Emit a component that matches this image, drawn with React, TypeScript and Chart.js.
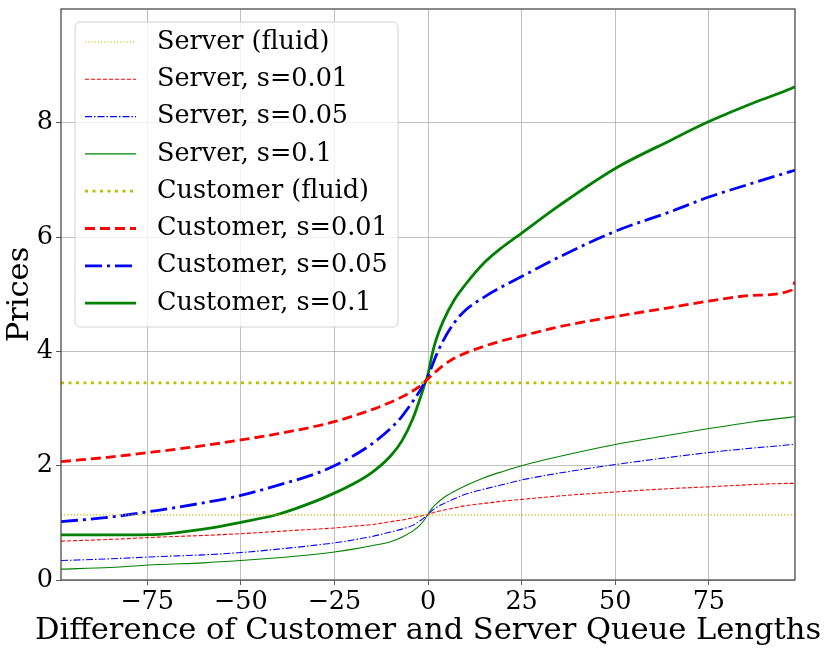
import { useEffect, useRef } from "react";
import { Chart, registerables } from "chart.js";

Chart.register(...registerables);

const xValues = [
  -98, -85, -72, -60, -50, -40, -30, -25, -20, -15, -10, -7, -4, -2, -1, 0, 1,
  2, 4, 7, 10, 15, 20, 25, 35, 50, 65, 75, 87, 97, 98,
];

const serverFluid = 1.14;
const customerFluid = 3.45;

const serverS001 = [
  0.68, 0.71, 0.75, 0.78, 0.81, 0.85, 0.89, 0.91, 0.94, 0.97, 1.02, 1.05, 1.09,
  1.12, 1.13, 1.15, 1.17, 1.19, 1.22, 1.26, 1.3, 1.34, 1.38, 1.41, 1.47, 1.54,
  1.6, 1.63, 1.67, 1.69, 1.69,
];
const serverS005 = [
  0.34, 0.37, 0.41, 0.44, 0.48, 0.54, 0.61, 0.65, 0.7, 0.76, 0.84, 0.89, 0.96,
  1.04, 1.09, 1.15, 1.21, 1.26, 1.33, 1.42, 1.5, 1.59, 1.67, 1.75, 1.87, 2.02,
  2.15, 2.23, 2.31, 2.37, 2.38,
];
const serverS01 = [
  0.19, 0.22, 0.27, 0.3, 0.34, 0.39, 0.45, 0.49, 0.54, 0.6, 0.67, 0.75, 0.86,
  0.97, 1.05, 1.15, 1.25, 1.32, 1.43, 1.55, 1.65, 1.79, 1.9, 2.0, 2.16, 2.37,
  2.54, 2.65, 2.77, 2.85, 2.86,
];
const customerS001 = [
  2.07, 2.15, 2.25, 2.35, 2.45, 2.56, 2.69, 2.77, 2.87, 2.98, 3.11, 3.2, 3.31,
  3.4, 3.46, 3.52, 3.58, 3.64, 3.75, 3.88, 3.97, 4.09, 4.19, 4.27, 4.43, 4.61,
  4.77, 4.88, 4.98, 5.07, 5.22,
];
const customerS005 = [
  1.02, 1.1, 1.22, 1.35, 1.48, 1.66, 1.86, 2.0, 2.17, 2.38, 2.65, 2.86, 3.13,
  3.33, 3.45, 3.57, 3.73, 3.9, 4.18, 4.5, 4.72, 4.95, 5.14, 5.31, 5.65, 6.1,
  6.45, 6.7, 6.95, 7.15, 7.17,
];
const customerS01 = [
  0.79, 0.79, 0.8, 0.89, 1.01, 1.15, 1.38, 1.52, 1.68, 1.88, 2.17, 2.43, 2.83,
  3.2, 3.4, 3.6, 3.92, 4.17, 4.52, 4.9, 5.17, 5.55, 5.83, 6.07, 6.55, 7.2, 7.7,
  8.02, 8.35, 8.6, 8.63,
];

const seriesLabels = [
  "Server (fluid)",
  "Server, s=0.01",
  "Server, s=0.05",
  "Server, s=0.1",
  "Customer (fluid)",
  "Customer, s=0.01",
  "Customer, s=0.05",
  "Customer, s=0.1",
];

const xTitle = "Difference of Customer and Server Queue Lengths";
const yTitle = "Prices";

const FONT = "'DejaVu Serif', serif";

const toPoints = (ys: number[]) => xValues.map((x, i) => ({ x, y: ys[i] }));
const flat = (y: number) => [
  { x: xValues[0], y },
  { x: xValues[xValues.length - 1], y },
];

const minusLabel = (v: number | string) => {
  const n = Number(v);
  return n < 0 ? "\u2212" + Math.abs(n) : String(n);
};

const frameAndLegend = {
  id: "frameAndLegend",
  afterDraw(chart: Chart) {
    const { ctx, chartArea } = chart;
    ctx.save();
    ctx.strokeStyle = "#444";
    ctx.lineWidth = 1.25;
    ctx.strokeRect(
      chartArea.left,
      chartArea.top,
      chartArea.right - chartArea.left,
      chartArea.bottom - chartArea.top,
    );

    // x title drawn here so it is not squeezed to the plot width
    ctx.font = `30.5px ${FONT}`;
    ctx.fillStyle = "#000";
    ctx.textAlign = "center";
    ctx.textBaseline = "alphabetic";
    ctx.fillText(xTitle, (chartArea.left + chartArea.right) / 2, 639);

    // legend box in the upper left corner
    const bx = 75;
    const by = 22;
    const bw = 323;
    const bh = 305;
    ctx.beginPath();
    ctx.roundRect(bx, by, bw, bh, 5);
    ctx.fillStyle = "rgba(255,255,255,0.8)";
    ctx.fill();
    ctx.strokeStyle = "#d0d0d0";
    ctx.lineWidth = 1;
    ctx.stroke();

    ctx.font = `25.5px ${FONT}`;
    ctx.textAlign = "left";
    ctx.textBaseline = "middle";
    ctx.fillStyle = "#000";
    chart.data.datasets.forEach((ds: any, i: number) => {
      const y = 42 + i * 37.3;
      ctx.beginPath();
      ctx.setLineDash(ds.borderDash || []);
      ctx.strokeStyle = ds.borderColor;
      ctx.lineWidth = ds.borderWidth;
      ctx.moveTo(85, y);
      ctx.lineTo(136, y);
      ctx.stroke();
      ctx.setLineDash([]);
      ctx.fillText(ds.label, 157, y);
    });
    ctx.restore();
  },
};

export default function App() {
  const canvasRef = useRef<HTMLCanvasElement>(null);
  const chartRef = useRef<Chart | null>(null);

  useEffect(() => {
    if (!canvasRef.current) return;
    if (chartRef.current) chartRef.current.destroy();

    const thin = 1.1;
    const thick = 2.8;

    chartRef.current = new Chart(canvasRef.current, {
      type: "line",
      data: {
        datasets: [
          {
            label: seriesLabels[0],
            data: flat(serverFluid),
            borderColor: "#bfbf00",
            borderWidth: thin,
            borderDash: [1.2, 2],
          },
          {
            label: seriesLabels[1],
            data: toPoints(serverS001),
            borderColor: "#ff0000",
            borderWidth: thin,
            borderDash: [4, 2],
          },
          {
            label: seriesLabels[2],
            data: toPoints(serverS005),
            borderColor: "#0000ff",
            borderWidth: thin,
            borderDash: [7, 2, 1.5, 2],
          },
          {
            label: seriesLabels[3],
            data: toPoints(serverS01),
            borderColor: "#008000",
            borderWidth: thin,
          },
          {
            label: seriesLabels[4],
            data: flat(customerFluid),
            borderColor: "#bfbf00",
            borderWidth: thick,
            borderDash: [3, 4.5],
          },
          {
            label: seriesLabels[5],
            data: toPoints(customerS001),
            borderColor: "#ff0000",
            borderWidth: thick,
            borderDash: [10, 5],
          },
          {
            label: seriesLabels[6],
            data: toPoints(customerS005),
            borderColor: "#0000ff",
            borderWidth: thick,
            borderDash: [17, 5, 3, 5],
          },
          {
            label: seriesLabels[7],
            data: toPoints(customerS01),
            borderColor: "#008000",
            borderWidth: thick,
          },
        ],
      },
      options: {
        animation: false,
        responsive: true,
        maintainAspectRatio: false,
        layout: { padding: { left: 0, right: 35, top: 9, bottom: 0 } },
        elements: {
          point: { radius: 0 },
          line: { cubicInterpolationMode: "monotone" },
        },
        plugins: {
          legend: { display: false },
          tooltip: { enabled: false },
        },
        scales: {
          x: {
            type: "linear",
            min: -98,
            max: 98,
            afterBuildTicks: (scale: any) => {
              scale.ticks = scale.ticks.filter(
                (t: any) => t.value % 25 === 0,
              );
            },
            afterFit: (scale: any) => {
              scale.height = 73;
              scale.paddingLeft = 0;
              scale.paddingRight = 0;
            },
            ticks: {
              stepSize: 25,
              color: "#000",
              padding: 2,
              maxRotation: 0,
              font: { family: FONT, size: 25.5 },
              callback: (v) => minusLabel(v),
            },
            grid: {
              color: "#b0b0b0",
              lineWidth: 0.8,
              tickLength: 5,
              tickColor: "#333",
            },
            border: { display: false },
            title: { display: false },
          },
          y: {
            type: "linear",
            min: 0,
            max: 9.99,
            afterBuildTicks: (scale: any) => {
              scale.ticks = scale.ticks.filter((t: any) => t.value % 2 === 0);
            },
            afterFit: (scale: any) => {
              scale.width = 61;
              scale.paddingTop = 0;
              scale.paddingBottom = 0;
            },
            ticks: {
              stepSize: 2,
              color: "#000",
              padding: 3,
              font: { family: FONT, size: 25.5 },
            },
            grid: {
              color: "#b0b0b0",
              lineWidth: 0.8,
              tickLength: 5,
              tickColor: "#333",
            },
            border: { display: false },
            title: {
              display: true,
              text: yTitle,
              color: "#000",
              font: { family: FONT, size: 30.5 },
              padding: { top: 2, bottom: 0 },
            },
          },
        },
      },
      plugins: [frameAndLegend],
    });

    return () => {
      if (chartRef.current) {
        chartRef.current.destroy();
        chartRef.current = null;
      }
    };
  }, []);

  return (
    <div
      style={{
        position: "fixed",
        left: 0,
        top: 0,
        width: 830,
        height: 653,
        background: "#fff",
      }}
    >
      <canvas ref={canvasRef} />
    </div>
  );
}
